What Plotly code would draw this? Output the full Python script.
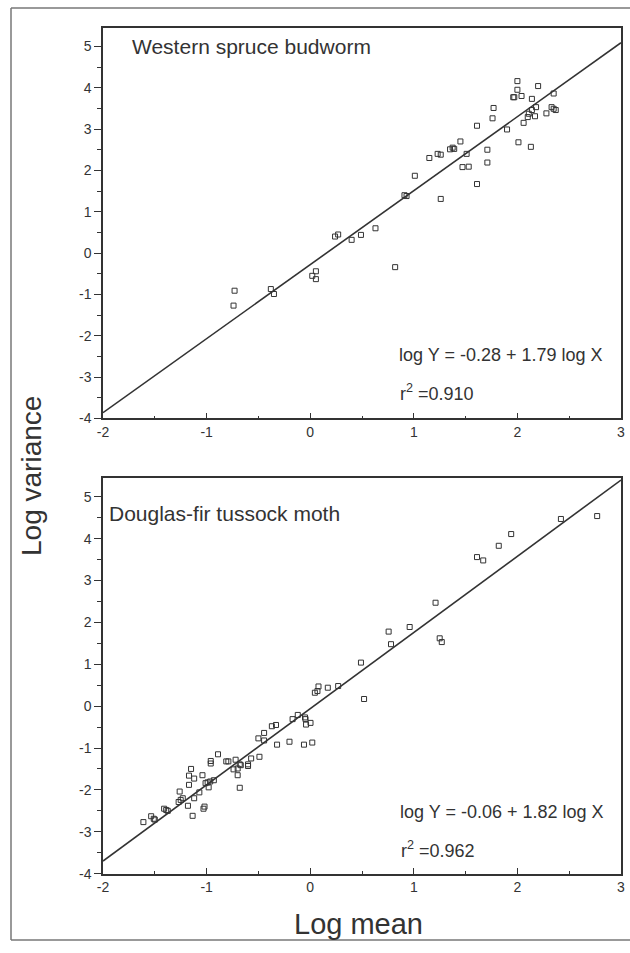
import plotly.graph_objects as go

# ---- Data: Western spruce budworm (log mean, log variance) ----
wsb_x = [-0.73, -0.74, -0.38, -0.35, 0.02, 0.055, 0.055,
         0.24, 0.27, 0.40, 0.49, 0.63, 0.82, 0.91, 0.93, 1.01, 1.26, 1.61,
         2.00, 2.00, 2.20, 1.96, 1.97, 2.04, 2.14, 2.35, 1.77, 2.14, 2.18,
         2.11, 2.10, 2.17, 2.33, 2.35, 2.37, 2.28, 1.76, 2.06, 1.61, 1.90,
         1.45, 1.35, 1.375, 1.39, 1.15, 1.23, 1.26, 1.51, 1.71, 2.01, 2.13,
         1.47, 1.53, 1.71]
wsb_y = [-0.91, -1.27, -0.87, -0.99, -0.55, -0.44, -0.63,
         0.40, 0.45, 0.32, 0.44, 0.60, -0.34, 1.40, 1.38, 1.87, 1.31, 1.67,
         4.16, 3.95, 4.04, 3.77, 3.77, 3.80, 3.73, 3.86, 3.51, 3.46, 3.53,
         3.37, 3.29, 3.31, 3.53, 3.49, 3.46, 3.38, 3.26, 3.15, 3.08, 2.99,
         2.70, 2.51, 2.55, 2.52, 2.30, 2.40, 2.38, 2.40, 2.50, 2.68, 2.57,
         2.08, 2.09, 2.19]

# ---- Data: Douglas-fir tussock moth ----
dft_x = [-1.61, -1.535, -1.51, -1.50, -1.41, -1.39, -1.375, -1.27, -1.25, -1.23,
         -1.26, -1.18, -1.135, -1.12, -1.17, -1.17, -1.12, -1.15, -1.07, -1.04,
         -1.02, -1.03, -1.01, -0.99, -0.965, -0.93, -0.98, -0.96, -0.96, -0.89,
         -0.81, -0.79, -0.72, -0.74, -0.70, -0.70, -0.68, -0.67, -0.68, -0.60,
         -0.60, -0.57, -0.49, -0.50, -0.445, -0.445, -0.37, -0.33, -0.32, -0.20,
         -0.17, -0.12, -0.06, -0.05, -0.045, -0.04, 0.003, 0.02, 0.045, 0.07,
         0.08, 0.17, 0.27, 0.49, 0.52, 0.757, 0.78, 0.96, 1.21, 1.25, 1.27,
         1.61, 1.67, 1.82, 1.94, 2.42, 2.77]
dft_y = [-2.77, -2.63, -2.69, -2.71, -2.45, -2.48, -2.50, -2.29, -2.24, -2.20,
         -2.04, -2.38, -2.62, -2.20, -1.88, -1.66, -1.73, -1.50, -2.06, -1.65,
         -2.40, -2.45, -1.84, -1.82, -1.80, -1.77, -1.94, -1.31, -1.37, -1.15,
         -1.32, -1.32, -1.28, -1.51, -1.49, -1.65, -1.39, -1.41, -1.95, -1.39,
         -1.43, -1.25, -1.21, -0.77, -0.64, -0.82, -0.48, -0.45, -0.92, -0.85,
         -0.31, -0.21, -0.92, -0.27, -0.31, -0.44, -0.40, -0.87, 0.32, 0.36,
         0.47, 0.44, 0.48, 1.04, 0.17, 1.78, 1.48, 1.89, 2.47, 1.62, 1.53,
         3.56, 3.48, 3.83, 4.11, 4.47, 4.54]

# regression lines (from the printed equations)
wsb_a, wsb_b = -0.28, 1.79
dft_a, dft_b = -0.06, 1.82
line_x = [-2, 3]

x_ticks = [-2, -1, 0, 1, 2, 3]
x_labels = ["-2", "-1", "0", "1", "2", "3"]
y_ticks = [-4, -3, -2, -1, 0, 1, 2, 3, 4, 5]
y_labels = ["-4", "-3", "-2", "-1", "0", "1", "2", "3", "4", "5"]

W, H = 630, 953
L, R = 103, 621
INK = "#333333"
FONT = "Liberation Sans, Arial, sans-serif"

def py(p):
    return 1 - p / H

fig = go.Figure()
mk = dict(symbol="square-open", size=5, color=INK, line=dict(width=1, color=INK))
fig.add_trace(go.Scatter(x=wsb_x, y=wsb_y, mode="markers", marker=mk, xaxis="x", yaxis="y", showlegend=False))
fig.add_trace(go.Scatter(x=line_x, y=[wsb_a + wsb_b * v for v in line_x], mode="lines",
                         line=dict(color=INK, width=1.6), xaxis="x", yaxis="y", showlegend=False))
fig.add_trace(go.Scatter(x=dft_x, y=dft_y, mode="markers", marker=mk, xaxis="x2", yaxis="y2", showlegend=False))
fig.add_trace(go.Scatter(x=line_x, y=[dft_a + dft_b * v for v in line_x], mode="lines",
                         line=dict(color=INK, width=1.6), xaxis="x2", yaxis="y2", showlegend=False))

xa = dict(range=[-2, 3], tickvals=x_ticks, ticktext=x_labels, ticks="inside", ticklen=6,
          tickwidth=1, tickcolor=INK, showline=True, linecolor=INK, linewidth=1.5, mirror=True,
          showgrid=False, zeroline=False, tickfont=dict(family=FONT, size=14, color=INK), domain=[0, 1],
          ticklabeloverflow="allow",
          minor=dict(dtick=0.5, ticks="inside", ticklen=3, tickcolor=INK))
ya = dict(tickvals=y_ticks, ticktext=y_labels, ticks="outside", ticklen=7, tickwidth=1, tickcolor=INK,
          showline=True, linecolor=INK, linewidth=1.5, mirror=True, showgrid=False, zeroline=False,
          tickfont=dict(family=FONT, size=14, color=INK),
          minor=dict(dtick=0.5, ticks="outside", ticklen=4, tickcolor=INK))

fig.update_layout(
    width=W, height=H, margin=dict(l=L, r=W - R, t=0, b=0),
    paper_bgcolor="white", plot_bgcolor="white",
    xaxis=dict(xa, anchor="y"),
    yaxis=dict(ya, range=[-4, 5.45], domain=[py(422), py(28)], anchor="x"),
    xaxis2=dict(xa, anchor="y2"),
    yaxis2=dict(ya, range=[-4, 5.45], domain=[py(881), py(482)], anchor="x2"),
)

ann = []
ann.append(dict(text="Western spruce budworm", x=-1.74, y=5.0, xref="x", yref="y", xanchor="left",
                yanchor="middle", showarrow=False, font=dict(family=FONT, size=21, color=INK)))
ann.append(dict(text="Douglas-fir tussock moth", x=-1.96, y=4.6, xref="x2", yref="y2", xanchor="left",
                yanchor="middle", showarrow=False, font=dict(family=FONT, size=21, color=INK)))
ann.append(dict(text="log Y = -0.28 + 1.79 log X", x=0.84, y=-2.47, xref="x", yref="y", xanchor="left",
                yanchor="middle", showarrow=False, font=dict(family=FONT, size=18, color=INK)))
ann.append(dict(text="r<sup>2</sup> =0.910", x=0.85, y=-3.38, xref="x", yref="y", xanchor="left",
                yanchor="middle", showarrow=False, font=dict(family=FONT, size=18, color=INK)))
ann.append(dict(text="log Y = -0.06 + 1.82 log X", x=0.85, y=-2.54, xref="x2", yref="y2", xanchor="left",
                yanchor="middle", showarrow=False, font=dict(family=FONT, size=18, color=INK)))
ann.append(dict(text="r<sup>2</sup> =0.962", x=0.86, y=-3.43, xref="x2", yref="y2", xanchor="left",
                yanchor="middle", showarrow=False, font=dict(family=FONT, size=18, color=INK)))
ann.append(dict(text="Log variance", x=(32 - L) / (R - L), y=py(480), xref="paper", yref="paper",
                textangle=-90, showarrow=False, xanchor="center", yanchor="middle",
                font=dict(family=FONT, size=28, color=INK)))
ann.append(dict(text="Log mean", x=(358 - L) / (R - L), y=py(932), xref="paper", yref="paper",
                showarrow=False, xanchor="center", yanchor="middle",
                font=dict(family=FONT, size=29, color=INK)))
fig.update_layout(annotations=ann)

# outer frame lines of the scanned page
fx0 = (11 - L) / (R - L)
fx1 = (W - L) / (R - L)
fig.update_layout(shapes=[
    dict(type="line", xref="paper", yref="paper", x0=fx0, x1=fx1, y0=py(8), y1=py(8), line=dict(color="#777", width=1.5)),
    dict(type="line", xref="paper", yref="paper", x0=fx0, x1=fx0, y0=py(8), y1=py(948), line=dict(color="#777", width=1.5)),
    dict(type="line", xref="paper", yref="paper", x0=fx0, x1=fx1, y0=py(948), y1=py(948), line=dict(color="#777", width=1.5)),
])

# remove the default page margin so the 630x953 figure fills the window exactly (no scrollbar),
# and hide the interactive toolbar
fig.write_html("out.html", config={"displayModeBar": False},
               post_script="document.body.style.margin='0';document.body.style.overflow='hidden';")
